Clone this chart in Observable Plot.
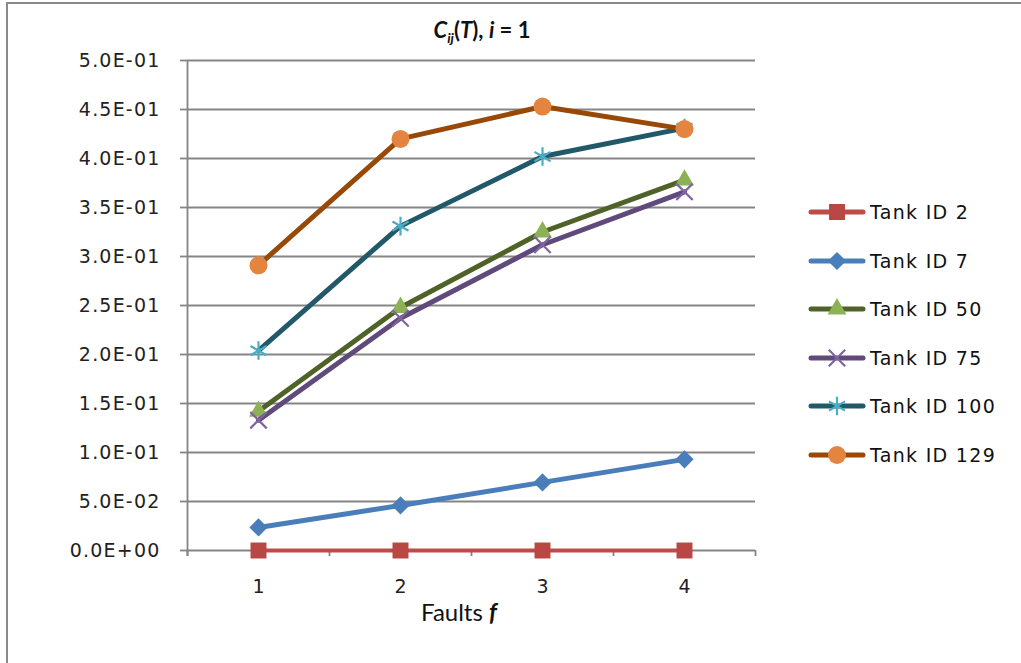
<!DOCTYPE html>
<html><head><meta charset="utf-8">
<script src="https://cdn.jsdelivr.net/npm/d3@7"></script>
<script src="https://cdn.jsdelivr.net/npm/@observablehq/plot@0.6"></script>
<style>
body{margin:0;background:#fff;}
#chart{position:relative;width:1021px;height:663px;overflow:hidden;background:#fff;}
#frame{position:absolute;left:6px;top:2px;width:1100px;height:700px;border-left:2px solid #8a8a8a;border-top:2px solid #8a8a8a;}
#title{position:absolute;left:0;width:964px;top:16px;text-align:center;font:bold 22px Lato;color:#111;}
#title i{font-style:italic;}
#title sub{font-size:14px;vertical-align:-5px;}
#plot{position:absolute;left:0;top:0;}
#xlabel{position:absolute;left:0;width:918px;top:597px;text-align:center;font:24px Lato;color:#111;}
#xlabel i{font-weight:bold;font-style:italic;}
#legend{position:absolute;left:808px;top:188px;}
.row{display:flex;align-items:center;height:48.5px;}
.row span{font:19px "DejaVu Sans";letter-spacing:1.3px;color:#111;margin-left:4px;}
.ytick text{letter-spacing:1.2px;}
</style>
</head><body>
<div id="chart">
  <div id="frame"></div>
  <div id="plot"></div>
  <div id="title"><i>C<sub>ij</sub></i>(<i>T</i>), <i>i</i> = 1</div>
  <div id="xlabel">Faults <i>f</i></div>
  <div id="legend"></div>
</div>
<script>
const faults = [1, 2, 3, 4];
const tanks = ["Tank ID 2", "Tank ID 7", "Tank ID 50", "Tank ID 75", "Tank ID 100", "Tank ID 129"];
const tank2   = [0, 0, 0, 0];
const tank7   = [0.0235, 0.046, 0.0695, 0.093];
const tank50  = [0.142, 0.248, 0.325, 0.378];
const tank75  = [0.133, 0.237, 0.312, 0.366];
const tank100 = [0.204, 0.331, 0.402, 0.431];
const tank129 = [0.291, 0.420, 0.453, 0.430];
const seriesValues = [tank2, tank7, tank50, tank75, tank100, tank129];
const yTicks = [0, 0.05, 0.1, 0.15, 0.2, 0.25, 0.3, 0.35, 0.4, 0.45, 0.5];
const xBounds = [0.5, 1.5, 2.5, 3.5, 4.5];

const lineColors   = ["#BE4B48", "#4A7EBB", "#4F6228", "#604A7B", "#215968", "#984807"];
const markerColors = ["#B94743", "#4A7EBB", "#8CB255", "#8064A2", "#4BACC6", "#E38540"];
const symbols      = ["square", "diamond2", "triangle", "times", "asterisk", "circle"];
const markerR      = [9, 8.2, 7, 7.5, 8.8, 9];
const lineWidths   = [3.8, 5, 5, 5, 5, 5];
const strokeSymbols = new Set(["times", "asterisk"]);

const rows = [];
tanks.forEach((t, i) => faults.forEach((f, j) => rows.push({tank: t, idx: i, f, v: seriesValues[i][j]})));

const fmt = d => d.toExponential(1).replace("e", "E").replace(/E([+-])(\d)$/, "E$10$2");
const grid = "#858585";

const marks = [
  Plot.ruleY(yTicks, {stroke: grid, strokeWidth: 1.8}),
  Plot.ruleX([0.5], {y1: -0.006, y2: 0.5, stroke: grid, strokeWidth: 1.8}),
  Plot.axisY(yTicks, {tickSize: 7, tickPadding: 20, tickFormat: fmt, stroke: grid, strokeWidth: 1.8, strokeOpacity: 1, label: null, fill: "#222", className: "ytick", fontSize: 19}),
  Plot.axisX(xBounds, {tickSize: 6, tickFormat: () => "", stroke: grid, strokeWidth: 1.8, strokeOpacity: 1, label: null}),
  Plot.axisX(faults, {tickSize: 0, tickPadding: 29, tickFormat: d => String(d), label: null, fill: "#222", fontSize: 19})
];
tanks.forEach((t, i) => {
  const data = rows.filter(r => r.idx === i);
  marks.push(Plot.line(data, {x: "f", y: "v", stroke: lineColors[i], strokeWidth: lineWidths[i], strokeLinecap: "round", strokeLinejoin: "round"}));
  const isStroke = strokeSymbols.has(symbols[i]);
  marks.push(Plot.dot(data, {x: "f", y: "v", symbol: () => symbols[i], r: markerR[i],
    fill: isStroke ? "none" : markerColors[i], stroke: isStroke ? markerColors[i] : "none", strokeWidth: isStroke ? 2.2 : 0}));
});

const chart = Plot.plot({
  width: 780, height: 663,
  marginLeft: 187, marginRight: 25, marginTop: 60, marginBottom: 113,
  x: {type: "linear", domain: [0.5, 4.5]},
  y: {domain: [0, 0.5]},
  symbol: {type: "identity"},
  style: {fontFamily: "DejaVu Sans", fontSize: "18px", background: "transparent", overflow: "visible"},
  marks
});
document.getElementById("plot").appendChild(chart);

// legend
const d3sym = {square: d3.symbolSquare, diamond2: d3.symbolDiamond2, triangle: d3.symbolTriangle, times: d3.symbolX, asterisk: d3.symbolAsterisk, circle: d3.symbolCircle};
const leg = d3.select("#legend");
tanks.forEach((t, i) => {
  const row = leg.append("div").attr("class", "row");
  const svg = row.append("svg").attr("width", 58).attr("height", 24);
  svg.append("line").attr("x1", 3).attr("x2", 55).attr("y1", 12).attr("y2", 12)
    .attr("stroke", lineColors[i]).attr("stroke-width", 5).attr("stroke-linecap", "round");
  const isStroke = strokeSymbols.has(symbols[i]);
  svg.append("path").attr("transform", "translate(29,12)")
    .attr("d", d3.symbol(d3sym[symbols[i]], Math.PI * markerR[i] * markerR[i])())
    .attr("fill", isStroke ? "none" : markerColors[i])
    .attr("stroke", isStroke ? markerColors[i] : "none").attr("stroke-width", 2.2);
  row.append("span").text(t);
});
</script>
</body></html>
